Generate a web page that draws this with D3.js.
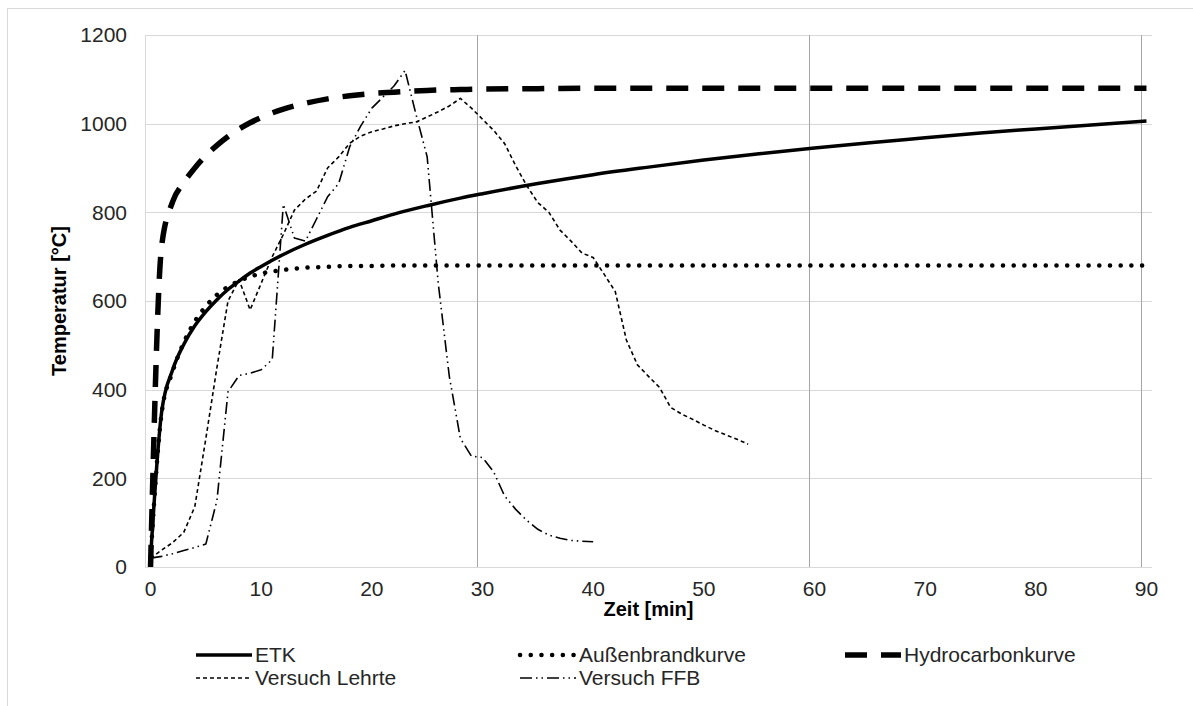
<!DOCTYPE html>
<html><head><meta charset="utf-8">
<script src="https://cdn.jsdelivr.net/npm/d3@7/dist/d3.min.js"></script>
<style>body{margin:0;background:#fff}text{font-family:"Liberation Sans",Arial,sans-serif}</style>
</head><body><svg id="c" width="1193" height="706"></svg>
<script>
// ---- data (minutes / °C) ----
const stdTimes = [0,1,2,3,4,5,6,7,8,9,10,12,14,16,18,20,22,25,28,30,35,40,45,50,55,60,65,70,75,80,85,90];
const etkValues = [20,349,445,502,544,576,603,626,645,663,678,705,728,748,766,781,796,815,832,842,865,885,902,918,932,945,957,968,979,988,997,1006];
const aussenValues = [20,346,441,506,554,588,614,632,645,655,662,670,675,677,679,679,680,680,680,680,680,680,680,680,680,680,680,680,680,680,680,680];
const hcValues = [0,723,824,867,900,928,951,971,988,1002,1014,1033,1046,1056,1063,1068,1071,1075,1077,1078,1079,1080,1080,1080,1080,1080,1080,1080,1080,1080,1080,1080];

const lehrteTimes = [0,1,2,3,4,5,6,7,8,9,10,11,12,13,14,15,16,17,18,19,20,21,22,23,24,25,26,27,28,29,30,31,32,33,34,35,36,37,38,39,40,41,42,43,44,45,46,47,48,49,50,51,52,53,54];
const lehrteValues = [20,38,55,78,136,290,450,600,648,580,640,700,750,805,830,848,900,925,956,972,982,988,995,1000,1004,1015,1027,1040,1057,1035,1010,985,955,905,860,822,800,760,735,708,698,660,621,512,456,430,405,360,345,333,320,308,298,288,277];

const ffbTimes = [0,1,2,3,4,5,6,7,8,9,10,11,12,13,14,15,16,17,18,19,20,21,22,23,24,25,26,27,28,29,30,31,32,33,34,35,36,37,38,39,40];
const ffbValues = [20,24,30,37,44,52,150,395,432,437,445,468,818,742,735,785,835,865,948,995,1035,1060,1085,1120,1020,925,640,430,290,250,247,215,160,130,105,85,72,65,60,58,57];

const xTicks = [0,10,20,30,40,50,60,70,80,90];
const yTicks = [0,200,400,600,800,1000,1200];
const xGridEvery = 30; // category-boundary lines every 30 minutes
const legendLabels = ["ETK","Außenbrandkurve","Hydrocarbonkurve","Versuch Lehrte","Versuch FFB"];
const xTitle = "Zeit [min]", yTitle = "Temperatur [°C]";

// ---- drawing ----
const FS = 21;
const svg = d3.select("#c");
svg.append("rect").attr("x",7.5).attr("y",8.5).attr("width",1200).attr("height",720)
  .attr("fill","none").attr("stroke","#d9d9d9");

const x = d3.scaleLinear().domain([-0.5,90.5]).range([145,1152]);
const y = d3.scaleLinear().domain([0,1200]).range([567,35]);

// horizontal grid
svg.append("g").selectAll("line").data(yTicks).join("line")
  .attr("x1",x(-0.5)).attr("x2",x(90.5))
  .attr("y1",d=>Math.round(y(d))+0.5).attr("y2",d=>Math.round(y(d))+0.5)
  .attr("stroke","#d9d9d9").attr("stroke-width",1);
// left axis line
svg.append("line").attr("x1",Math.round(x(-0.5))+0.5).attr("x2",Math.round(x(-0.5))+0.5)
  .attr("y1",y(1200)).attr("y2",y(0)).attr("stroke","#d9d9d9");
// vertical lines at category boundaries
const vLines = [1,2,3].map(k=>k*xGridEvery-0.5);
svg.append("g").selectAll("line").data(vLines).join("line")
  .attr("x1",d=>Math.round(x(d))+0.5).attr("x2",d=>Math.round(x(d))+0.5)
  .attr("y1",y(1200)).attr("y2",y(0)).attr("stroke","#a6a6a6").attr("stroke-width",1);

// tick labels
svg.append("g").selectAll("text").data(yTicks).join("text")
  .attr("x",127).attr("y",d=>y(d)).attr("dy","0.35em").attr("text-anchor","end")
  .attr("font-size",FS).attr("fill","#262626").text(d=>d);
svg.append("g").selectAll("text").data(xTicks).join("text")
  .attr("x",d=>x(d)).attr("y",589).attr("dy","0.35em").attr("text-anchor","middle")
  .attr("font-size",FS).attr("fill","#262626").text(d=>d);

svg.append("text").attr("x",(x(-0.5)+x(90.5))/2).attr("y",609).attr("dy","0.35em")
  .attr("text-anchor","middle").attr("font-size",FS-1).attr("font-weight","bold").attr("fill","#000").text(xTitle);
svg.append("text").attr("transform",`translate(59,${(y(0)+y(1200))/2}) rotate(-90)`).attr("dy","0.35em")
  .attr("text-anchor","middle").attr("font-size",FS-1).attr("font-weight","bold").attr("fill","#000").text(yTitle);

// series
const styles = [
  {w:3.5, dash:null, cap:"butt"},
  {w:4.5, dash:"0.1 10.6", cap:"round"},
  {w:5.5, dash:"22 14", cap:"butt"},
  {w:1.6, dash:"4 3", cap:"butt"},
  {w:1.6, dash:"12 4 1.5 4 1.5 4", cap:"butt"}
];
const series = [
  {t:stdTimes, v:etkValues, curve:d3.curveMonotoneX},
  {t:stdTimes, v:aussenValues, curve:d3.curveMonotoneX},
  {t:stdTimes, v:hcValues, curve:d3.curveMonotoneX},
  {t:lehrteTimes, v:lehrteValues, curve:d3.curveLinear},
  {t:ffbTimes, v:ffbValues, curve:d3.curveLinear}
];
const plotG = svg.append("g");
series.forEach((s,i)=>{
  const pts = s.t.map((t,j)=>[t,s.v[j]]);
  const line = d3.line().x(d=>x(d[0])).y(d=>y(d[1])).curve(s.curve);
  const st = styles[i];
  plotG.append("path").attr("d",line(pts)).attr("fill","none").attr("stroke","#000")
    .attr("stroke-width",st.w).attr("stroke-dasharray",st.dash).attr("stroke-linecap",st.cap)
    .attr("stroke-linejoin","round");
});

// legend
const legPos = [[196,655],[520,655],[845,655],[196,678],[520,678]];
legendLabels.forEach((lab,i)=>{
  const [lx,ly]=legPos[i]; const st=styles[i];
  svg.append("line").attr("x1",lx).attr("x2",lx+56).attr("y1",ly).attr("y2",ly)
    .attr("stroke","#000").attr("stroke-width",st.w).attr("stroke-dasharray",st.dash).attr("stroke-linecap",st.cap);
  svg.append("text").attr("x",lx+59).attr("y",ly).attr("dy","0.35em").attr("font-size",FS)
    .attr("fill","#262626").text(lab);
});
</script></body></html>
